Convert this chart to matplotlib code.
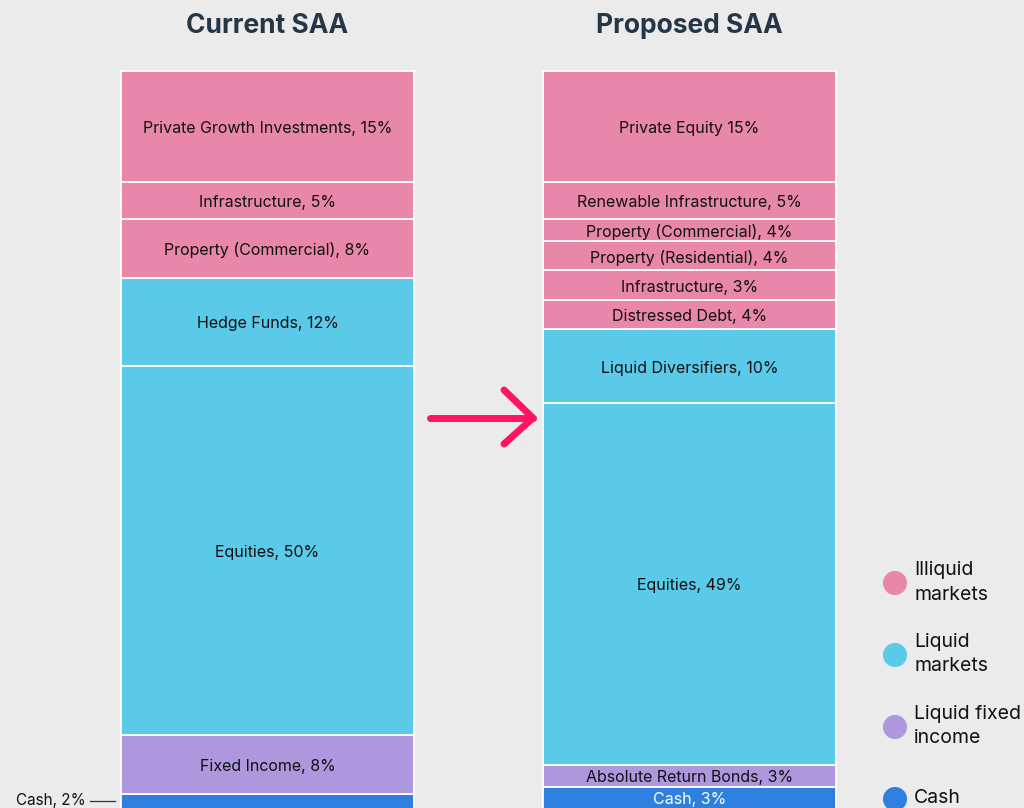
import matplotlib.pyplot as plt

# data
current_labels = ["Cash, 2%", "Fixed Income, 8%", "Equities, 50%", "Hedge Funds, 12%",
                  "Property (Commercial), 8%", "Infrastructure, 5%",
                  "Private Growth Investments, 15%"]
current_values = [2, 8, 50, 12, 8, 5, 15]
current_groups = ["cash", "fixed", "liquid", "liquid", "illiquid", "illiquid", "illiquid"]

proposed_labels = ["Cash, 3%", "Absolute Return Bonds, 3%", "Equities, 49%",
                   "Liquid Diversifiers, 10%", "Distressed Debt, 4%", "Infrastructure, 3%",
                   "Property (Residential), 4%", "Property (Commercial), 4%",
                   "Renewable Infrastructure, 5%", "Private Equity 15%"]
# segment heights as drawn in the chart
proposed_values = [3, 3, 49, 10, 4, 4, 4, 3, 5, 15]
proposed_groups = ["cash", "fixed", "liquid", "liquid", "illiquid", "illiquid",
                   "illiquid", "illiquid", "illiquid", "illiquid"]

legend_keys = ["illiquid", "liquid", "fixed", "cash"]
legend_labels = ["Illiquid\nmarkets", "Liquid\nmarkets", "Liquid fixed\nincome", "Cash"]

colors = {"illiquid": "#E887A9", "liquid": "#5BC9E8", "fixed": "#AE97DD", "cash": "#2F7FE0"}
bg = "#EBEBEB"

plt.rcParams['font.family'] = ['Inter', 'DejaVu Sans']

fig = plt.figure(figsize=(10.24, 8.08), dpi=100, facecolor=bg)
ax = fig.add_axes([0, 0, 1, 1])
ax.set_facecolor(bg)
px = 7.38  # pixels per percent
base = 809  # pixel row of the 0% line (just below the image)
ax.set_xlim(0, 1024)
ax.set_ylim((base - 808) / px, base / px)
ax.axis("off")

def yv(pix):
    return (base - pix) / px

bar_w = 293
centers = [267.5, 689.5]
titles = ["Current SAA", "Proposed SAA"]
stacks = [(current_labels, current_values, current_groups),
          (proposed_labels, proposed_values, proposed_groups)]

for i, (labels, values, groups) in enumerate(stacks):
    bottom = 0
    for lab, val, grp in zip(labels, values, groups):
        ax.bar(centers[i], val, width=bar_w, bottom=bottom, color=colors[grp],
               edgecolor="white", linewidth=1.3)
        mid = bottom + val / 2 - 2 / px
        if i == 0 and grp == "cash":
            # label outside with a leader line
            ax.text(86, yv(801), lab, ha="right", va="center", fontsize=11, color="#111111")
            ax.plot([90, 115], [yv(801), yv(801)], color="#333333", lw=0.9)
        else:
            tc = "white" if grp == "cash" else "#111111"
            ax.text(centers[i], mid, lab, ha="center", va="center", fontsize=11.5, color=tc)
        bottom += val
    ax.text(centers[i], yv(26), titles[i], ha="center", va="center",
            fontsize=19, fontweight="bold", color="#253746")

# arrow
ax.plot([430, 533], [yv(418), yv(418)], color="#FF1464", lw=5, solid_capstyle="round")
ax.plot([504, 533, 504], [yv(390), yv(418), yv(444)], color="#FF1464", lw=5,
        solid_capstyle="round", solid_joinstyle="round")

# legend
for k, (key, lab) in enumerate(zip(legend_keys, legend_labels)):
    ly = yv(583 + 72 * k)
    ax.scatter([895], [ly], s=300, color=colors[key], edgecolor="none", clip_on=False)
    ax.text(914, ly + 0.1, lab, ha="left", va="center", fontsize=14, color="#111111",
            linespacing=1.5 if k == 0 else 1.4)

fig.savefig("out.png", dpi=100, facecolor=bg)
